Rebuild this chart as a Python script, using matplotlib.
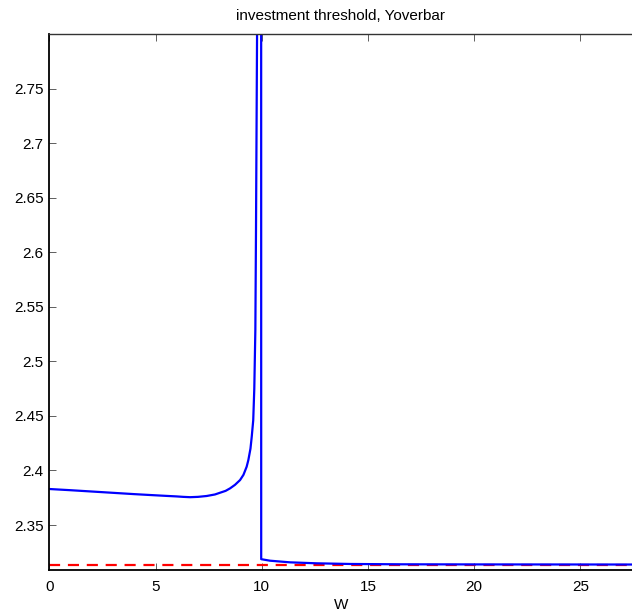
import matplotlib
matplotlib.use("Agg")
import matplotlib.pyplot as plt
import matplotlib.ticker as ticker

# ── data ──────────────────────────────────────────────────────────────────────
W = [0.0, 1.0, 2.0, 3.0, 4.0, 4.74, 5.5, 6.0, 6.3, 6.63, 7.0, 7.41, 7.8,
     8.04, 8.3, 8.51, 8.74, 8.98, 9.14, 9.29, 9.37, 9.47, 9.53, 9.6, 9.65,
     9.70, 9.73, 9.78, 9.85, 9.97, 9.975, 10.39, 11.33, 12.59, 14.16, 16.5,
     20.0, 27.43]
YOVERBAR = [2.3830, 2.3819, 2.3807, 2.3795, 2.3783, 2.3775, 2.3767, 2.3762,
            2.3758, 2.3755, 2.3758, 2.3766, 2.3780, 2.3796, 2.3813, 2.3836,
            2.3868, 2.3912, 2.3960, 2.4034, 2.4095, 2.4200, 2.4310, 2.4460,
            2.4750, 2.5290, 2.6200, 2.8000, 3.2000, 4.0000, 2.3187, 2.3173,
            2.3158, 2.3149, 2.3143, 2.3140, 2.3139, 2.3138]
LIMIT = 2.3133  # red dashed reference level

X_TICKS = [0, 5, 10, 15, 20, 25]
Y_TICKS = [2.35, 2.4, 2.45, 2.5, 2.55, 2.6, 2.65, 2.7, 2.75]

plt.rcParams["font.family"] = ["Liberation Sans", "DejaVu Sans"]

fig = plt.figure(figsize=(6.32, 6.14), dpi=100)
ax = fig.add_axes([0.078, 0.0717, 0.922, 0.873])

ax.axhline(LIMIT, color="#ff0000", linestyle=(0, (5, 3.5)), linewidth=1.6)
ax.plot(W, YOVERBAR, color="#0000ff", linewidth=1.6)

ax.set_xlim(0, 27.43)
ax.set_ylim(2.3088, 2.8)
ax.set_xticks(X_TICKS)
ax.set_yticks(Y_TICKS)
ax.yaxis.set_major_formatter(ticker.FormatStrFormatter("%g"))

ax.tick_params(direction="in", length=5, width=0.6, labelsize=11,
               top=True, right=False, pad=4, color="#444444")
ax.tick_params(axis="x", pad=7)
for side in ("left", "bottom"):
    ax.spines[side].set_linewidth(1.3)
    ax.spines[side].set_color("black")
ax.spines["top"].set_linewidth(1.0)
ax.spines["top"].set_color("#333333")
ax.spines["right"].set_visible(False)

ax.set_xlabel("W", fontsize=11, labelpad=3)
ax.set_title("investment threshold, Yoverbar", fontsize=11, pad=10)

fig.savefig("out.png", dpi=100)
